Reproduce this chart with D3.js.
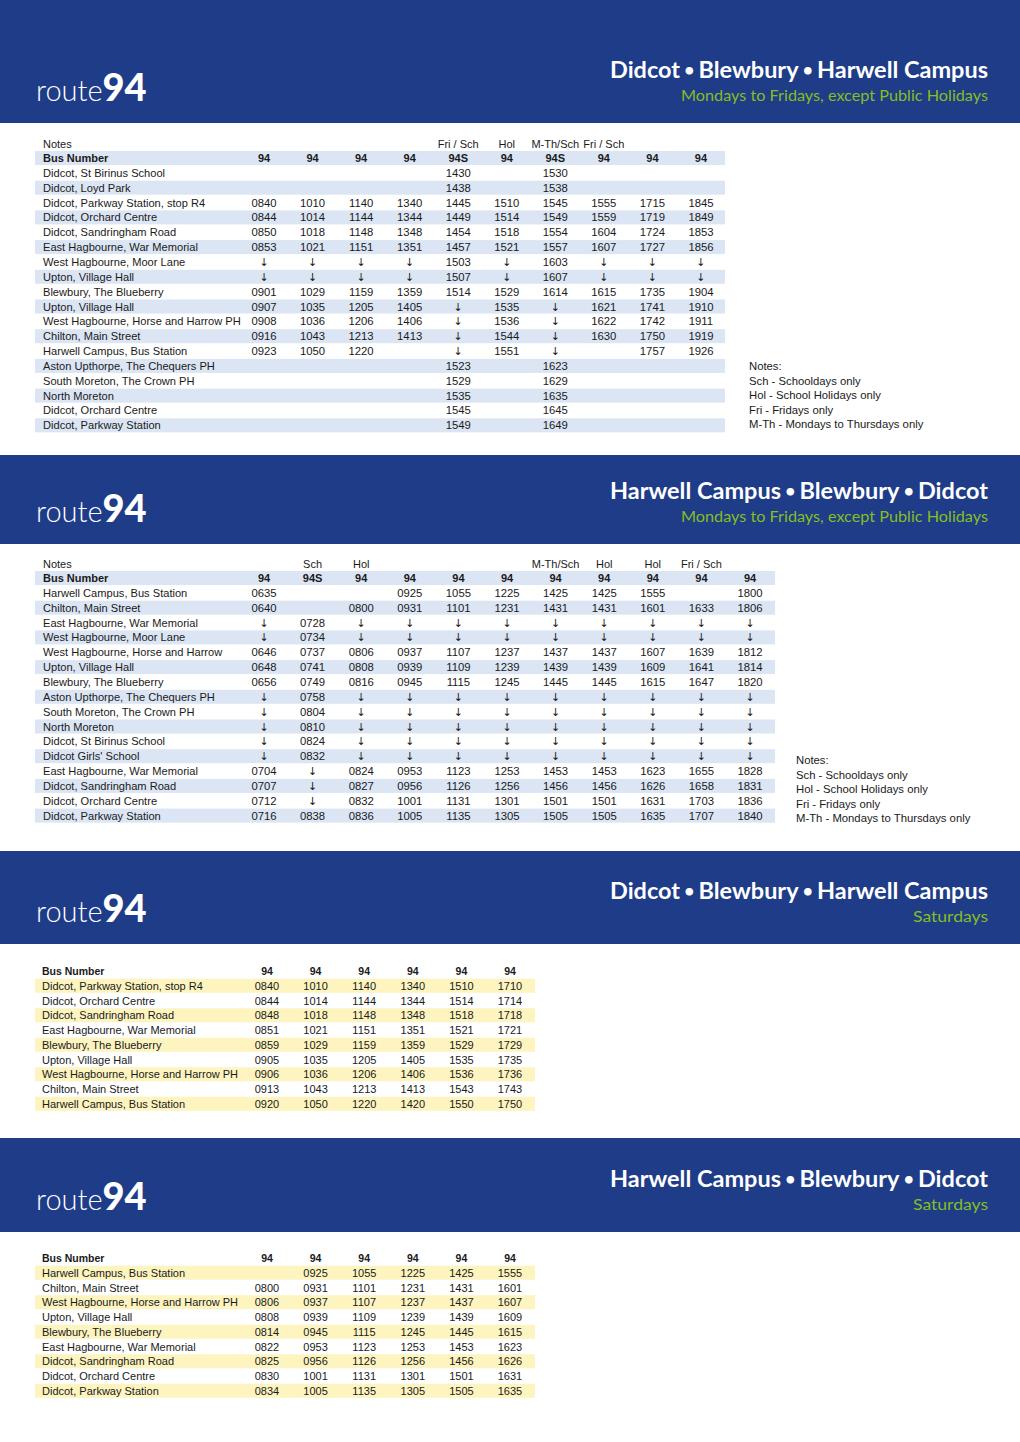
<!DOCTYPE html>
<html>
<head>
<meta charset="utf-8">
<script src="https://cdn.jsdelivr.net/npm/d3@7"></script>
<style>
  body { margin: 0; background: #fff; }
  svg { display: block; }
</style>
</head>
<body>
<div id="sheet"></div>
<script>
// Page size
var svgWidth = 1020;
var svgHeight = 1442;

var DOWN = "\u2193";

// ---- Mondays to Fridays, Didcot -> Harwell Campus ----
var wkOutStops = [
  "Didcot, St Birinus School", "Didcot, Loyd Park", "Didcot, Parkway Station, stop R4",
  "Didcot, Orchard Centre", "Didcot, Sandringham Road", "East Hagbourne, War Memorial",
  "West Hagbourne, Moor Lane", "Upton, Village Hall", "Blewbury, The Blueberry",
  "Upton, Village Hall", "West Hagbourne, Horse and Harrow PH", "Chilton, Main Street",
  "Harwell Campus, Bus Station", "Aston Upthorpe, The Chequers PH", "South Moreton, The Crown PH",
  "North Moreton", "Didcot, Orchard Centre", "Didcot, Parkway Station"
];
var wkOutNotes = ["", "", "", "", "Fri / Sch", "Hol", "M-Th/Sch", "Fri / Sch", "", ""];
var wkOutBuses = ["94", "94", "94", "94", "94S", "94", "94S", "94", "94", "94"];
var wkOutTimes = [
  ["", "", "", "", "1430", "", "1530", "", "", ""],
  ["", "", "", "", "1438", "", "1538", "", "", ""],
  ["0840", "1010", "1140", "1340", "1445", "1510", "1545", "1555", "1715", "1845"],
  ["0844", "1014", "1144", "1344", "1449", "1514", "1549", "1559", "1719", "1849"],
  ["0850", "1018", "1148", "1348", "1454", "1518", "1554", "1604", "1724", "1853"],
  ["0853", "1021", "1151", "1351", "1457", "1521", "1557", "1607", "1727", "1856"],
  [DOWN, DOWN, DOWN, DOWN, "1503", DOWN, "1603", DOWN, DOWN, DOWN],
  [DOWN, DOWN, DOWN, DOWN, "1507", DOWN, "1607", DOWN, DOWN, DOWN],
  ["0901", "1029", "1159", "1359", "1514", "1529", "1614", "1615", "1735", "1904"],
  ["0907", "1035", "1205", "1405", DOWN, "1535", DOWN, "1621", "1741", "1910"],
  ["0908", "1036", "1206", "1406", DOWN, "1536", DOWN, "1622", "1742", "1911"],
  ["0916", "1043", "1213", "1413", DOWN, "1544", DOWN, "1630", "1750", "1919"],
  ["0923", "1050", "1220", "", DOWN, "1551", DOWN, "", "1757", "1926"],
  ["", "", "", "", "1523", "", "1623", "", "", ""],
  ["", "", "", "", "1529", "", "1629", "", "", ""],
  ["", "", "", "", "1535", "", "1635", "", "", ""],
  ["", "", "", "", "1545", "", "1645", "", "", ""],
  ["", "", "", "", "1549", "", "1649", "", "", ""]
];

// ---- Mondays to Fridays, Harwell Campus -> Didcot ----
var wkInStops = [
  "Harwell Campus, Bus Station", "Chilton, Main Street", "East Hagbourne, War Memorial",
  "West Hagbourne, Moor Lane", "West Hagbourne, Horse and Harrow", "Upton, Village Hall",
  "Blewbury, The Blueberry", "Aston Upthorpe, The Chequers PH", "South Moreton, The Crown PH",
  "North Moreton", "Didcot, St Birinus School", "Didcot Girls' School",
  "East Hagbourne, War Memorial", "Didcot, Sandringham Road", "Didcot, Orchard Centre",
  "Didcot, Parkway Station"
];
var wkInNotes = ["", "Sch", "Hol", "", "", "", "M-Th/Sch", "Hol", "Hol", "Fri / Sch", ""];
var wkInBuses = ["94", "94S", "94", "94", "94", "94", "94", "94", "94", "94", "94"];
var wkInTimes = [
  ["0635", "", "", "0925", "1055", "1225", "1425", "1425", "1555", "", "1800"],
  ["0640", "", "0800", "0931", "1101", "1231", "1431", "1431", "1601", "1633", "1806"],
  [DOWN, "0728", DOWN, DOWN, DOWN, DOWN, DOWN, DOWN, DOWN, DOWN, DOWN],
  [DOWN, "0734", DOWN, DOWN, DOWN, DOWN, DOWN, DOWN, DOWN, DOWN, DOWN],
  ["0646", "0737", "0806", "0937", "1107", "1237", "1437", "1437", "1607", "1639", "1812"],
  ["0648", "0741", "0808", "0939", "1109", "1239", "1439", "1439", "1609", "1641", "1814"],
  ["0656", "0749", "0816", "0945", "1115", "1245", "1445", "1445", "1615", "1647", "1820"],
  [DOWN, "0758", DOWN, DOWN, DOWN, DOWN, DOWN, DOWN, DOWN, DOWN, DOWN],
  [DOWN, "0804", DOWN, DOWN, DOWN, DOWN, DOWN, DOWN, DOWN, DOWN, DOWN],
  [DOWN, "0810", DOWN, DOWN, DOWN, DOWN, DOWN, DOWN, DOWN, DOWN, DOWN],
  [DOWN, "0824", DOWN, DOWN, DOWN, DOWN, DOWN, DOWN, DOWN, DOWN, DOWN],
  [DOWN, "0832", DOWN, DOWN, DOWN, DOWN, DOWN, DOWN, DOWN, DOWN, DOWN],
  ["0704", DOWN, "0824", "0953", "1123", "1253", "1453", "1453", "1623", "1655", "1828"],
  ["0707", DOWN, "0827", "0956", "1126", "1256", "1456", "1456", "1626", "1658", "1831"],
  ["0712", DOWN, "0832", "1001", "1131", "1301", "1501", "1501", "1631", "1703", "1836"],
  ["0716", "0838", "0836", "1005", "1135", "1305", "1505", "1505", "1635", "1707", "1840"]
];

// ---- Saturdays, Didcot -> Harwell Campus ----
var satOutStops = [
  "Didcot, Parkway Station, stop R4", "Didcot, Orchard Centre", "Didcot, Sandringham Road",
  "East Hagbourne, War Memorial", "Blewbury, The Blueberry", "Upton, Village Hall",
  "West Hagbourne, Horse and Harrow PH", "Chilton, Main Street", "Harwell Campus, Bus Station"
];
var satOutBuses = ["94", "94", "94", "94", "94", "94"];
var satOutTimes = [
  ["0840", "1010", "1140", "1340", "1510", "1710"],
  ["0844", "1014", "1144", "1344", "1514", "1714"],
  ["0848", "1018", "1148", "1348", "1518", "1718"],
  ["0851", "1021", "1151", "1351", "1521", "1721"],
  ["0859", "1029", "1159", "1359", "1529", "1729"],
  ["0905", "1035", "1205", "1405", "1535", "1735"],
  ["0906", "1036", "1206", "1406", "1536", "1736"],
  ["0913", "1043", "1213", "1413", "1543", "1743"],
  ["0920", "1050", "1220", "1420", "1550", "1750"]
];

// ---- Saturdays, Harwell Campus -> Didcot ----
var satInStops = [
  "Harwell Campus, Bus Station", "Chilton, Main Street", "West Hagbourne, Horse and Harrow PH",
  "Upton, Village Hall", "Blewbury, The Blueberry", "East Hagbourne, War Memorial",
  "Didcot, Sandringham Road", "Didcot, Orchard Centre", "Didcot, Parkway Station"
];
var satInBuses = ["94", "94", "94", "94", "94", "94"];
var satInTimes = [
  ["", "0925", "1055", "1225", "1425", "1555"],
  ["0800", "0931", "1101", "1231", "1431", "1601"],
  ["0806", "0937", "1107", "1237", "1437", "1607"],
  ["0808", "0939", "1109", "1239", "1439", "1609"],
  ["0814", "0945", "1115", "1245", "1445", "1615"],
  ["0822", "0953", "1123", "1253", "1453", "1623"],
  ["0825", "0956", "1126", "1256", "1456", "1626"],
  ["0830", "1001", "1131", "1301", "1501", "1631"],
  ["0834", "1005", "1135", "1305", "1505", "1635"]
];

var keyLines = ["Notes:", "Sch - Schooldays only", "Hol - School Holidays only",
  "Fri - Fridays only", "M-Th - Mondays to Thursdays only"];

var outPlaces = ["Didcot", "Blewbury", "Harwell Campus"];
var inPlaces = ["Harwell Campus", "Blewbury", "Didcot"];
var weekdayText = "Mondays to Fridays, except Public Holidays";
var saturdayText = "Saturdays";

// colours
var bannerBlue = "#1e3c87";
var green = "#86bc25";
var bandBlue = "#dbe5f4";
var bandYellow = "#fdf4c0";
var ink = "#1a1a1a";

var svg = d3.select("#sheet")
  .append("svg")
  .attr("width", svgWidth)
  .attr("height", svgHeight);

function drawBanner(top, bottom, places, sub) {
  var g = svg.append("g");
  g.append("rect")
    .attr("x", 0).attr("y", top)
    .attr("width", svgWidth).attr("height", bottom - top)
    .attr("fill", bannerBlue);

  var r = g.append("text")
    .attr("x", 36).attr("y", bottom - 22)
    .attr("fill", "#fff")
    .style("font-family", "Lato, 'Open Sans', sans-serif");
  r.append("tspan").text("route")
    .style("font-size", "29px").style("font-weight", 300);
  r.append("tspan").text("94")
    .style("font-size", "38px").style("font-weight", 900);

  var t = g.append("text")
    .attr("x", 988).attr("y", bottom - 45)
    .attr("text-anchor", "end")
    .attr("fill", "#fff")
    .style("font-family", "Lato, 'Open Sans', sans-serif")
    .style("font-size", "23px").style("font-weight", 700)
    .attr("textLength", 378).attr("lengthAdjust", "spacingAndGlyphs");
  // smaller bullets between the place names
  places.forEach(function(p, i) {
    if (i > 0) {
      t.append("tspan").text(" \u2022 ").style("font-size", "17px").attr("dy", -2);
      t.append("tspan").text(p).attr("dy", 2);
    } else {
      t.append("tspan").text(p);
    }
  });

  g.append("text")
    .attr("x", 988).attr("y", bottom - 22)
    .attr("text-anchor", "end")
    .attr("fill", green)
    .style("font-family", "Lato, 'Open Sans', sans-serif")
    .style("font-size", "16px").style("font-weight", 400)
    .attr("textLength", sub === saturdayText ? 75 : 307)
    .attr("lengthAdjust", "spacingAndGlyphs")
    .text(sub);
}

// one timetable block
function drawTable(o) {
  var g = svg.append("g");
  var nCols = o.buses.length;
  var x = d3.scaleLinear().domain([0, nCols - 1]).range([o.firstCol, o.firstCol + (nCols - 1) * o.colStep]);
  // row -1 is the "Bus Number" row, -2 the notes row
  var y = d3.scaleLinear().domain([-1, o.stops.length - 1])
    .range([o.headY, o.headY + o.stops.length * o.rowStep]);

  var rows = o.stops.map(function(s, i) { return { stop: s, i: i, times: o.times[i] }; });
  var bandRows = [-1].concat(d3.range(o.stops.length)).filter(o.shade);

  g.selectAll("rect.band")
    .data(bandRows)
    .enter()
    .append("rect")
    .attr("class", "band")
    .attr("x", o.bandX0)
    .attr("width", o.bandX1 - o.bandX0)
    .attr("y", d => y(d) - 7)
    .attr("height", 14)
    .attr("fill", o.bandColor);

  var font = "'Liberation Sans', Arial, Helvetica, sans-serif";

  if (o.notes) {
    g.append("text")
      .attr("x", o.labelX).attr("y", y(-2) + 4.5)
      .style("font-family", font).style("font-size", "11px")
      .attr("fill", ink)
      .text("Notes");
    g.selectAll("text.note")
      .data(o.notes)
      .enter()
      .append("text")
      .attr("class", "note")
      .attr("x", (d, i) => x(i))
      .attr("y", y(-2) + 4.5)
      .attr("text-anchor", "middle")
      .style("font-family", font).style("font-size", "11px")
      .attr("fill", ink)
      .text(d => d);
  }

  g.append("text")
    .attr("x", o.labelX).attr("y", y(-1) + 4)
    .style("font-family", font).style("font-size", o.headSize).style("font-weight", "bold")
    .attr("fill", ink)
    .text("Bus Number");
  g.selectAll("text.bus")
    .data(o.buses)
    .enter()
    .append("text")
    .attr("class", "bus")
    .attr("x", (d, i) => x(i))
    .attr("y", y(-1) + 4)
    .attr("text-anchor", "middle")
    .style("font-family", font).style("font-size", o.headSize).style("font-weight", "bold")
    .attr("fill", ink)
    .text(d => d);

  var rowG = g.selectAll("g.row")
    .data(rows)
    .enter()
    .append("g")
    .attr("class", "row")
    .attr("transform", d => `translate(0, ${y(d.i) + 4})`);

  rowG.append("text")
    .attr("x", o.labelX)
    .style("font-family", font).style("font-size", o.labelSize)
    .attr("fill", ink)
    .text(d => d.stop);

  rowG.selectAll("text.t")
    .data(d => d.times)
    .enter()
    .append("text")
    .attr("class", "t")
    .attr("x", (d, i) => x(i))
    .attr("text-anchor", "middle")
    .style("font-family", d => d === DOWN ? "'DejaVu Sans', sans-serif" : font)
    .style("font-size", d => d === DOWN ? "11px" : o.size)
    .attr("fill", ink)
    .text(d => d);

  if (o.keyX) {
    g.selectAll("text.key")
      .data(keyLines)
      .enter()
      .append("text")
      .attr("class", "key")
      .attr("x", o.keyX)
      .attr("y", (d, i) => o.keyY + i * 14.5 + 4)
      .style("font-family", font).style("font-size", "11.3px")
      .attr("fill", ink)
      .text(d => d);
  }
}

drawBanner(0, 123, outPlaces, weekdayText);
drawBanner(455, 544, inPlaces, weekdayText);
drawBanner(851, 944, outPlaces, saturdayText);
drawBanner(1138, 1232, inPlaces, saturdayText);

drawTable({
  stops: wkOutStops, notes: wkOutNotes, buses: wkOutBuses, times: wkOutTimes,
  headY: 158, rowStep: 14.85, labelX: 43, firstCol: 264, colStep: 48.55,
  bandX0: 35, bandX1: 725, bandColor: bandBlue, shade: d => d % 2 !== 0,
  size: "11.3px", labelSize: "11.1px", headSize: "11px", keyX: 749, keyY: 366
});

drawTable({
  stops: wkInStops, notes: wkInNotes, buses: wkInBuses, times: wkInTimes,
  headY: 578, rowStep: 14.85, labelX: 43, firstCol: 264, colStep: 48.6,
  bandX0: 35, bandX1: 775, bandColor: bandBlue, shade: d => d % 2 !== 0,
  size: "11.3px", labelSize: "11.1px", headSize: "11px", keyX: 796, keyY: 760
});

drawTable({
  stops: satOutStops, buses: satOutBuses, times: satOutTimes,
  headY: 971, rowStep: 14.75, labelX: 42, firstCol: 267, colStep: 48.6,
  bandX0: 35, bandX1: 535, bandColor: bandYellow, shade: d => d >= 0 && d % 2 === 0,
  size: "11px", labelSize: "11px", headSize: "10.5px"
});

drawTable({
  stops: satInStops, buses: satInBuses, times: satInTimes,
  headY: 1258, rowStep: 14.75, labelX: 42, firstCol: 267, colStep: 48.6,
  bandX0: 35, bandX1: 535, bandColor: bandYellow, shade: d => d >= 0 && d % 2 === 0,
  size: "11px", labelSize: "11px", headSize: "10.5px"
});
</script>
</body>
</html>
